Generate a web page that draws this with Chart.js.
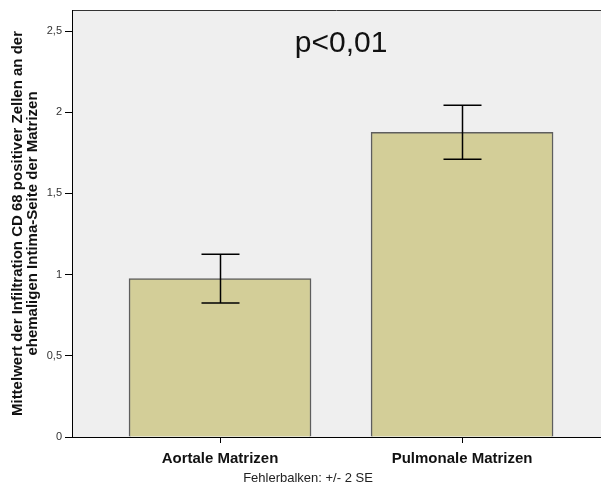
<!DOCTYPE html>
<html>
<head>
<meta charset="utf-8">
<script src="https://cdn.jsdelivr.net/npm/chart.js@4/dist/chart.umd.min.js"></script>
<style>
  html, body { margin: 0; padding: 0; background: #ffffff; }
  #wrap { width: 601px; height: 488px; position: relative; }
</style>
</head>
<body>
<div id="wrap"><canvas id="c" width="601" height="488"></canvas></div>
<script>
// Gruppen (Matrix-Herkunft)
const categories = ['Aortale Matrizen', 'Pulmonale Matrizen'];
// Mittelwerte der CD68-Infiltration
const means = [0.975, 1.877];
// Fehlerbalken: Mittelwert +/- 2 SE
const errUpper = [1.125, 2.044];
const errLower = [0.825, 1.710];
// Y-Achse
const yTicks = [0, 0.5, 1, 1.5, 2, 2.5];
const yMax = 2.63;
// Signifikanzangabe
const pLabel = 'p<0,01';
const pLabelPos = { x: 0.5, y: 2.37 };

const FONT = '"Liberation Sans", Arial, Helvetica, sans-serif';

const plotBackground = {
  id: 'plotBackground',
  beforeDraw(chart) {
    const { ctx, chartArea: a } = chart;
    ctx.save();
    ctx.fillStyle = '#efefef';
    ctx.fillRect(a.left, a.top, a.right - a.left, a.bottom - a.top);
    ctx.strokeStyle = '#333333';
    ctx.lineWidth = 1;
    ctx.beginPath();
    ctx.moveTo(a.left, a.top + 0.5);
    ctx.lineTo(a.right, a.top + 0.5);
    ctx.stroke();
    ctx.restore();
  }
};

const errorBars = {
  id: 'errorBars',
  afterDatasetsDraw(chart) {
    const { ctx } = chart;
    const xs = chart.scales.x, ys = chart.scales.y;
    const capHalf = 19;
    ctx.save();
    ctx.strokeStyle = '#000000';
    ctx.lineWidth = 1.5;
    categories.forEach((_, i) => {
      const px = Math.round(xs.getPixelForValue(i)) + 0.5;
      const top = ys.getPixelForValue(errUpper[i]);
      const bot = ys.getPixelForValue(errLower[i]);
      ctx.beginPath();
      ctx.moveTo(px, top); ctx.lineTo(px, bot);
      ctx.moveTo(px - capHalf, top); ctx.lineTo(px + capHalf, top);
      ctx.moveTo(px - capHalf, bot); ctx.lineTo(px + capHalf, bot);
      ctx.stroke();
    });
    // p-Wert
    ctx.fillStyle = '#111111';
    ctx.font = '30px ' + FONT;
    ctx.textAlign = 'center';
    ctx.textBaseline = 'alphabetic';
    ctx.fillText(pLabel, xs.getPixelForValue(pLabelPos.x), ys.getPixelForValue(pLabelPos.y));
    ctx.restore();
  }
};

new Chart(document.getElementById('c'), {
  type: 'bar',
  data: {
    datasets: [{
      data: categories.map((_, i) => ({ x: i, y: means[i] })),
      backgroundColor: '#d3ce98',
      borderColor: '#5e5e5e',
      borderWidth: 1.5,
      barThickness: 182
    }]
  },
  options: {
    responsive: false,
    animation: false,
    devicePixelRatio: 1,
    layout: { padding: { left: 15, top: 10, right: 0, bottom: 0 } },
    plugins: {
      legend: { display: false },
      tooltip: { enabled: false },
      title: {
        display: true,
        position: 'bottom',
        text: 'Fehlerbalken: +/- 2 SE',
        color: '#222222',
        font: { family: FONT, size: 13, weight: 'normal', lineHeight: 1.2 },
        padding: { top: 0, bottom: 2 }
      }
    },
    scales: {
      x: {
        type: 'linear',
        min: -0.6116,
        max: 1.574,
        offset: false,
        afterBuildTicks(scale) { scale.ticks = categories.map((_, i) => ({ value: i })); },
        afterFit(scale) { scale.height = 33.4; },
        ticks: {
          callback: (v) => categories[v],
          color: '#111111',
          font: { family: FONT, size: 15, weight: 'bold' },
          padding: 7,
          maxRotation: 0,
          autoSkip: false
        },
        grid: { display: true, offset: false, drawOnChartArea: false, drawTicks: true, tickLength: 6, color: '#000000' },
        border: { display: true, color: '#000000', width: 1 }
      },
      y: {
        min: 0,
        max: yMax,
        afterBuildTicks(scale) { scale.ticks = yTicks.map(v => ({ value: v })); },
        afterFit(scale) { scale.width = 57; },
        ticks: {
          callback: (v) => String(v).replace('.', ','),
          color: '#333333',
          font: { family: FONT, size: 11 },
          padding: 3
        },
        grid: { display: true, drawOnChartArea: false, drawTicks: true, tickLength: 7, color: '#000000' },
        border: { display: true, color: '#000000', width: 1 },
        title: {
          display: true,
          text: ['Mittelwert der Infiltration CD 68 positiver Zellen an der', 'ehemaligen Intima-Seite der Matrizen'],
          color: '#111111',
          font: { family: FONT, size: 15, weight: 'bold', lineHeight: 1.0 },
          padding: { top: -4.5, bottom: 0 }
        }
      }
    }
  },
  plugins: [plotBackground, errorBars]
});
</script>
</body>
</html>
